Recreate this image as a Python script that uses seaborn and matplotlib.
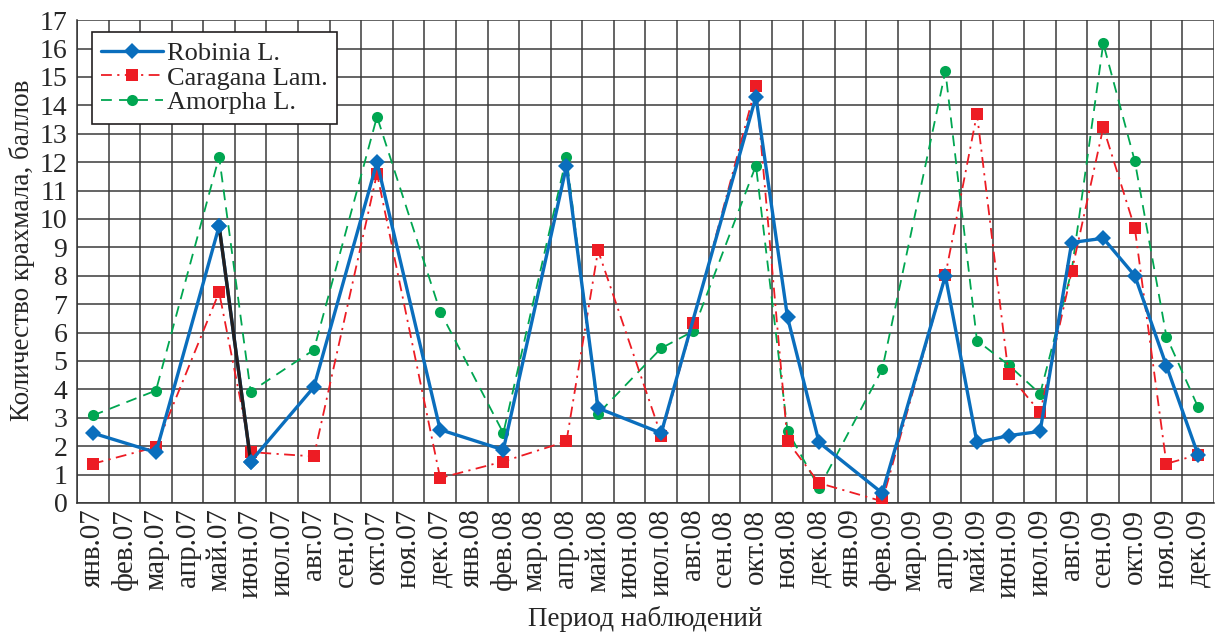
import numpy as np
import pandas as pd
import matplotlib
matplotlib.use("Agg")
import matplotlib.pyplot as plt
import seaborn as sns

# ---- data ----
month_abbr = ["янв", "фев", "мар", "апр", "май", "июн",
              "июл", "авг", "сен", "окт", "ноя", "дек"]
years = ["07", "08", "09"]
tick_labels = [f"{m}.{y}" for y in years for m in month_abbr]

obs_months = ["янв.07", "мар.07", "май.07", "июн.07", "авг.07", "окт.07", "дек.07",
              "фев.08", "апр.08", "май.08", "июл.08", "авг.08", "окт.08", "ноя.08", "дек.08",
              "фев.09", "апр.09", "май.09", "июн.09", "июл.09", "авг.09", "сен.09",
              "окт.09", "ноя.09", "дек.09"]

robinia = [2.46, 1.78, 9.75, 1.46, 4.08, 12.0, 2.58,
           1.87, 11.86, 3.34, 2.46, np.nan, 14.3, 6.54, 2.13,
           0.35, 8.0, 2.13, 2.37, 2.52, 9.17, 9.32, 8.0, 4.83, 1.70]
caragana = [1.38, 1.97, 7.42, 1.79, 1.64, 11.6, 0.88,
            1.46, 2.17, 8.89, 2.37, 6.35, 14.68, 2.17, 0.70,
            0.06, 8.02, 13.7, 4.54, 3.19, 8.15, 13.22, 9.67, 1.38, 1.70]
amorpha = [3.08, 3.96, 12.19, 3.92, 5.39, 13.6, 6.74,
           2.46, 12.19, 3.14, 5.45, 6.04, 11.88, 2.55, 0.53,
           4.71, 15.2, 5.72, 4.86, 3.84, 8.18, 16.18, 12.03, 5.86, 3.38]

series_names = ["Robinia L.", "Caragana Lam.", "Amorpha L."]
# segment of Robinia drawn in black in the original
black_segment = ["май.07", "июн.07"]

# ---- style ----
sns.set_style("white")
plt.rcParams["font.family"] = ["Liberation Serif", "DejaVu Serif"]

fig = plt.figure(figsize=(12.15, 6.37), dpi=100)
ax = fig.add_axes([0.0634, 0.2104, 0.9356, 0.758])

pos = {lab: i for i, lab in enumerate(tick_labels)}
df = pd.DataFrame({"month": obs_months,
                   series_names[0]: robinia,
                   series_names[1]: caragana,
                   series_names[2]: amorpha})
df["x"] = df["month"].map(pos)

styles = {
    "Robinia L.": dict(color="#0A6EBD", lw=2.4, ls="-", marker="D", ms=8.5),
    "Caragana Lam.": dict(color="#ED1C24", lw=1.3, ls=(0, (6, 3, 1.2, 3)), marker="s", ms=8.5),
    "Amorpha L.": dict(color="#00A651", lw=1.3, ls=(0, (6, 4)), marker="o", ms=8),
}

for name in [series_names[2], series_names[1], series_names[0]]:
    st = styles[name]
    sub = df[["x", name]].dropna()
    sns.lineplot(x=sub["x"], y=sub[name], ax=ax, color=st["color"], lw=st["lw"],
                 linestyle=st["ls"], marker=st["marker"], markersize=st["ms"],
                 markeredgecolor=st["color"], markeredgewidth=0, label=name,
                 sort=False, errorbar=None, zorder=3 if name != "Robinia L." else 4)

seg = df[df["month"].isin(black_segment)]
ax.plot(seg["x"], seg[series_names[0]], color="#231F20", lw=2.4, zorder=4.5,
        solid_capstyle="butt")
ax.plot(seg["x"], seg[series_names[0]], ls="none", marker="D", ms=8.5,
        color=styles["Robinia L."]["color"], mew=0, zorder=5)

# ---- axes ----
n = len(tick_labels)
ax.set_xlim(-0.5, n - 0.5)
ax.set_ylim(0, 17)
ax.set_xticks(np.arange(n))
ax.set_xticklabels(tick_labels, rotation=90, fontsize=21)
ax.set_xticks(np.arange(n + 1) - 0.5, minor=True)
ax.set_yticks(np.arange(0, 18, 1))
ax.tick_params(axis="y", labelsize=20, direction="inout", length=10, width=1, color="#333333", pad=2)
ax.tick_params(axis="x", which="major", length=0, pad=4)
ax.tick_params(axis="x", which="minor", direction="inout", length=10, width=1, color="#333333")

ax.grid(True, axis="y", which="major", color="#3a3a3a", lw=1.1)
ax.grid(True, axis="x", which="minor", color="#3a3a3a", lw=1.1)
ax.grid(False, axis="x", which="major")
ax.set_axisbelow(True)

for side in ["top", "right"]:
    ax.spines[side].set_visible(False)
for side in ["left", "bottom"]:
    ax.spines[side].set_color("#333333")
    ax.spines[side].set_linewidth(1.1)

ax.set_xlabel("Период наблюдений", fontsize=19.5, labelpad=6)
ax.set_ylabel("Количество крахмала, баллов", fontsize=19.5)
ax.yaxis.set_label_coords(-0.037, 0.524)

handles, labels = ax.get_legend_handles_labels()
order = [labels.index(s) for s in series_names]
leg = ax.legend([handles[i] for i in order], [labels[i] for i in order],
                loc="upper left", bbox_to_anchor=(0.0128, 0.975), borderaxespad=0,
                prop={"size": 19}, frameon=True, fancybox=False, edgecolor="#231F20",
                framealpha=1, handlelength=2.35, handletextpad=0.15,
                labelspacing=0.05, borderpad=0.35, numpoints=1)
leg.get_frame().set_linewidth(1.2)

fig.savefig("out.png", dpi=100)
